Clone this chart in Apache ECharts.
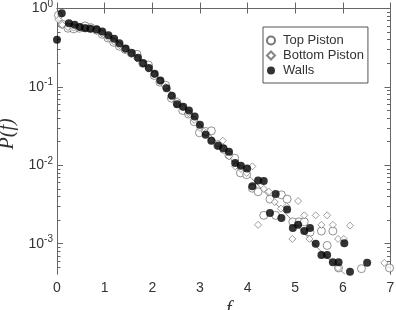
<!DOCTYPE html>
<html>
<head>
<meta charset="utf-8">
<script src="https://cdn.jsdelivr.net/npm/echarts@6/dist/echarts.min.js"></script>
<style>
  html, body { margin: 0; padding: 0; background: #fff; }
  #chart { width: 396px; height: 310px; }
</style>
</head>
<body>
<div id="chart"></div>
<script>
// ---- data ----
const xTicks = [0, 1, 2, 3, 4, 5, 6, 7]
const yDecades = [1e-3, 1e-2, 1e-1, 1]
const yMin = 4.07e-4
const yMax = 1

const wallsF = [0, 0.1, 0.25, 0.37, 0.48, 0.59, 0.7, 0.83, 0.95, 1.08, 1.2, 1.31, 1.44, 1.57, 1.7, 1.81, 1.93, 2.05, 2.17, 2.3, 2.41, 2.52, 2.65, 2.77, 2.89, 3.0, 3.12, 3.24, 3.38, 3.49, 3.61, 3.74, 3.86, 3.99, 4.1, 4.22, 4.34, 4.47, 4.59, 4.71, 4.83, 4.95, 5.06, 5.19, 5.31, 5.43, 5.55, 5.67, 5.79, 5.91, 6.03, 6.15, 6.51]
const wallsP = [0.40, 0.87, 0.65, 0.62, 0.58, 0.56, 0.55, 0.545, 0.51, 0.457, 0.41, 0.36, 0.31, 0.27, 0.235, 0.20, 0.174, 0.147, 0.121, 0.096, 0.077, 0.060, 0.056, 0.050, 0.042, 0.033, 0.0245, 0.0206, 0.0178, 0.0165, 0.0149, 0.0107, 0.0099, 0.0091, 0.0054, 0.0064, 0.0063, 0.00246, 0.0043, 0.00213, 0.00272, 0.00158, 0.00174, 0.00145, 0.00158, 0.0010, 0.00072, 0.00072, 0.00058, 0.00058, 0.00101, 0.00044, 0.00057]

const topF = [0.03, 0.11, 0.23, 0.35, 0.47, 0.59, 0.71, 0.83, 0.95, 1.07, 1.19, 1.31, 1.43, 1.56, 1.68, 1.8, 1.92, 2.04, 2.16, 2.28, 2.4, 2.52, 2.64, 2.76, 2.88, 2.99, 3.12, 3.24, 3.37, 3.5, 3.61, 3.73, 3.85, 3.98, 4.1, 4.22, 4.34, 4.47, 4.59, 4.71, 4.83, 4.95, 5.08, 5.19, 5.31, 5.55, 5.67, 5.79, 5.91, 6.39, 6.98]
const topP = [0.82, 0.63, 0.56, 0.55, 0.56, 0.60, 0.57, 0.53, 0.47, 0.42, 0.37, 0.33, 0.30, 0.27, 0.26, 0.20, 0.19, 0.14, 0.115, 0.105, 0.072, 0.063, 0.050, 0.045, 0.036, 0.026, 0.027, 0.0275, 0.018, 0.016, 0.0135, 0.0123, 0.0080, 0.0076, 0.0051, 0.0046, 0.0023, 0.0037, 0.0023, 0.0042, 0.0037, 0.0019, 0.0019, 0.0019, 0.0014, 0.00145, 0.00095, 0.00145, 0.00049, 0.00048, 0.00049]

const botF = [0.03, 0.11, 0.23, 0.35, 0.47, 0.59, 0.71, 0.83, 0.95, 1.07, 1.19, 1.31, 1.43, 1.56, 1.68, 1.8, 1.92, 2.04, 2.16, 2.28, 2.4, 2.52, 2.64, 2.76, 2.88, 3.0, 3.12, 3.24, 3.37, 3.48, 3.61, 3.74, 3.86, 3.98, 4.1, 4.22, 4.34, 4.45, 4.57, 4.7, 4.82, 4.94, 5.06, 5.19, 5.3, 5.43, 5.55, 5.67, 5.79, 5.9, 6.02, 6.15, 5.9, 6.87]
const botP = [0.72, 0.62, 0.58, 0.57, 0.58, 0.57, 0.55, 0.52, 0.48, 0.43, 0.38, 0.34, 0.30, 0.26, 0.23, 0.20, 0.17, 0.145, 0.12, 0.10, 0.078, 0.066, 0.055, 0.046, 0.038, 0.030, 0.026, 0.021, 0.019, 0.0206, 0.013, 0.0097, 0.009, 0.008, 0.0097, 0.00174, 0.005, 0.0046, 0.0034, 0.0028, 0.0030, 0.00115, 0.0035, 0.0023, 0.00115, 0.0023, 0.00174, 0.0023, 0.00174, 0.00115, 0.00115, 0.0017, 0.00049, 0.00057]

const fitF = [0, 0.5, 1.0, 1.5, 2.0, 2.5, 3.0, 3.5, 4.0, 4.5, 5.0, 5.5, 6.0, 6.05]
const fitP = [0.68, 0.60, 0.48, 0.30, 0.16, 0.072, 0.034, 0.016, 0.0077, 0.0037, 0.0018, 0.00085, 0.00043, 0.000407]

// ---- helpers ----
const lg = v => Math.log10(v)
const pts = (xs, ys) => xs.map((x, i) => [x, lg(ys[i])])

const majorVals = yDecades.map(lg)
const minorVals = []
yDecades.forEach(d => {
  for (let k = 2; k <= 9; k++) {
    const v = lg(d * k)
    if (v <= lg(yMax)) minorVals.push(v)
  }
})
minorVals.push(lg(5e-4), lg(6e-4), lg(7e-4), lg(8e-4), lg(9e-4))

const axisColor = '#666'
const labelFont = 'Arial, "Liberation Sans", sans-serif'
const nameFont = '"Liberation Serif", "Times New Roman", serif'

function yAxisDef(pos, major, showLabel) {
  return {
    type: 'value',
    position: pos,
    min: lg(yMin),
    max: lg(yMax),
    splitLine: { show: false },
    axisLine: { show: major, lineStyle: { color: axisColor, width: 1 } },
    axisTick: {
      inside: true,
      length: major ? 6 : 3.5,
      customValues: major ? majorVals : minorVals,
      lineStyle: { color: axisColor }
    },
    axisLabel: {
      show: showLabel,
      customValues: majorVals,
      margin: 4,
      formatter: v => '{n|10}{e|' + Math.round(v) + '}',
      rich: {
        n: { fontSize: 14, color: '#333', fontFamily: labelFont },
        e: { fontSize: 10, color: '#333', fontFamily: labelFont, padding: [0, 0, 9, 0] }
      }
    }
  }
}

const chart = echarts.init(document.getElementById('chart'))

chart.setOption({
  animation: false,
  grid: { left: 57, right: 5.5, top: 8.5, bottom: 35.7, containLabel: false, outerBoundsMode: 'none' },
  legend: {
    orient: 'vertical',
    left: 263,
    top: 27,
    padding: [7, 4, 6, 3],
    itemGap: 2,
    itemWidth: 8,
    itemHeight: 8,
    borderColor: '#555',
    borderWidth: 1,
    textStyle: { fontSize: 13, color: '#333', fontFamily: labelFont, padding: [0, 0, 0, 3] },
    data: ['Top Piston', 'Bottom Piston', 'Walls']
  },
  xAxis: [
    {
      type: 'value',
      position: 'bottom',
      min: xTicks[0],
      max: xTicks[xTicks.length - 1],
      interval: 1,
      name: 'f',
      nameLocation: 'middle',
      nameGap: 18,
      nameTextStyle: { fontSize: 20, fontStyle: 'italic', fontFamily: nameFont, color: '#333', padding: [0, 0, 0, 10] },
      splitLine: { show: false },
      axisLine: { lineStyle: { color: axisColor, width: 1 } },
      axisTick: { inside: true, length: 6, lineStyle: { color: axisColor } },
      axisLabel: { fontSize: 14, color: '#333', fontFamily: labelFont, margin: 7 }
    },
    {
      type: 'value',
      position: 'top',
      min: xTicks[0],
      max: xTicks[xTicks.length - 1],
      interval: 1,
      splitLine: { show: false },
      axisLine: { lineStyle: { color: axisColor, width: 1 } },
      axisTick: { inside: true, length: 5, lineStyle: { color: axisColor } },
      axisLabel: { show: false }
    }
  ],
  yAxis: [
    Object.assign(yAxisDef('left', true, true), {
      name: 'P(f)',
      nameLocation: 'middle',
      nameGap: 34,
      nameRotate: 90,
      nameTextStyle: { fontSize: 20, fontStyle: 'italic', fontFamily: nameFont, color: '#333', padding: [0, 0, 0, 15] }
    }),
    yAxisDef('left', false, false),
    yAxisDef('right', true, false),
    yAxisDef('right', false, false)
  ],
  series: [
    {
      name: 'fit',
      type: 'line',
      data: pts(fitF, fitP),
      smooth: true,
      symbol: 'none',
      lineStyle: { color: '#888', width: 1 },
      z: 1
    },
    {
      name: 'Top Piston',
      type: 'scatter',
      data: pts(topF, topP),
      symbol: 'circle',
      symbolSize: 8,
      itemStyle: { color: '#fff', borderColor: '#555', borderWidth: 0.8 },
      z: 2
    },
    {
      name: 'Bottom Piston',
      type: 'scatter',
      data: pts(botF, botP),
      symbol: 'diamond',
      symbolSize: 7,
      itemStyle: { color: '#fff', borderColor: '#666', borderWidth: 0.8 },
      z: 3
    },
    {
      name: 'Walls',
      type: 'scatter',
      data: pts(wallsF, wallsP),
      symbol: 'circle',
      symbolSize: 8,
      itemStyle: { color: '#000' },
      z: 4
    }
  ]
})
</script>
</body>
</html>
